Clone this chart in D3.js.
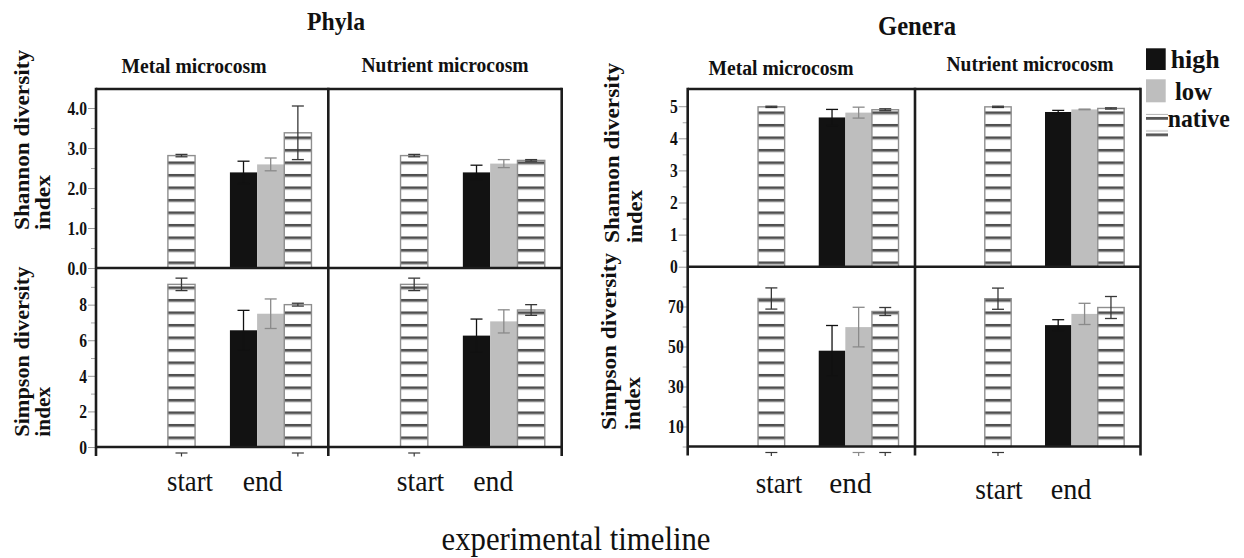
<!DOCTYPE html>
<html>
<head>
<meta charset="utf-8">
<script src="https://cdn.jsdelivr.net/npm/d3@7"></script>
<style>
  body { margin: 0; background: #fff; }
  svg { display: block; }
  text { font-family: "Liberation Serif", "Times New Roman", serif; fill: #111; }
</style>
</head>
<body>
<svg id="chart" width="1244" height="558"></svg>
<script>
// ---------- data ----------
const times = ["start", "end"];
const treatments = ["high", "low", "native"];
// bars shown in every panel, in this order: [time, treatment]
const barKeys = [["start", "native"], ["end", "high"], ["end", "low"], ["end", "native"]];
const taxLevels = ["Phyla", "Genera"];
const microcosms = ["Metal microcosm", "Nutrient microcosm"];
const indexNames = ["Shannon diversity", "Simpson diversity"];

// means and standard errors, in barKeys order
const phylaShannonMetal       = [2.81, 2.39, 2.59, 3.38];
const phylaShannonMetalErr    = [0.03, 0.28, 0.16, 0.67];
const phylaShannonNutrient    = [2.81, 2.39, 2.61, 2.69];
const phylaShannonNutrientErr = [0.03, 0.18, 0.10, 0.02];
const phylaSimpsonMetal       = [9.14, 6.56, 7.49, 8.00];
const phylaSimpsonMetalErr    = [0.35, 1.12, 0.83, 0.08];
const phylaSimpsonNutrient    = [9.14, 6.26, 7.06, 7.70];
const phylaSimpsonNutrientErr = [0.35, 0.93, 0.65, 0.30];

const generaShannonMetal       = [4.98, 4.65, 4.80, 4.89];
const generaShannonMetalErr    = [0.02, 0.25, 0.17, 0.03];
const generaShannonNutrient    = [4.98, 4.82, 4.90, 4.93];
const generaShannonNutrientErr = [0.02, 0.05, 0.01, 0.02];
const generaSimpsonMetal       = [74.0, 47.9, 59.7, 67.5];
const generaSimpsonMetalErr    = [5.3, 12.6, 9.9, 2.0];
const generaSimpsonNutrient    = [73.9, 60.7, 66.3, 69.5];
const generaSimpsonNutrientErr = [5.3, 2.7, 5.3, 5.5];

// tick values
const phylaShannonTicks  = [0, 1, 2, 3, 4];
const phylaShannonMinor  = [0.5, 1.5, 2.5, 3.5];
const phylaSimpsonTicks  = [0, 2, 4, 6, 8];
const phylaSimpsonMinor  = [1, 3, 5, 7, 9];
const generaShannonTicks = [0, 1, 2, 3, 4, 5];
const generaShannonMinor = [0.5, 1.5, 2.5, 3.5, 4.5];
const generaSimpsonTicks = [10, 30, 50, 70];
const generaSimpsonMinor = [0, 20, 40, 60, 80];

// lower error caps left below the time axis (bar indices, in barKeys order)
const phylaMetalCaps = [0, 3];
const phylaNutrientCaps = [0];
const generaMetalCaps = [0, 2, 3];
const generaNutrientCaps = [0];

// ---------- styles ----------
const fillOf = { high: "#121212", low: "#bebebe", native: "url(#stripes)" };
const errOf  = { high: "#111111", low: "#8a8a8a", native: "#383838" };
const frameColor = "#1c1c1c";
const serif = "'Liberation Serif', 'Times New Roman', serif";

const svg = d3.select("#chart");
svg.append("rect").attr("width", 1244).attr("height", 558).attr("fill", "#fff");

const defs = svg.append("defs");
const pat = defs.append("pattern").attr("id", "stripes")
  .attr("patternUnits", "userSpaceOnUse").attr("width", 8).attr("height", 12.5).attr("y", -1.05);
pat.append("rect").attr("width", 8).attr("height", 12.5).attr("fill", "#fff");
pat.append("rect").attr("y", 0).attr("width", 8).attr("height", 2.7).attr("fill", "#4f4f4f");
pat.append("rect").attr("y", 2.7).attr("width", 8).attr("height", 0.8).attr("fill", "#c4c4c4");

const pat2 = defs.append("pattern").attr("id", "legendStripes")
  .attr("patternUnits", "userSpaceOnUse").attr("width", 8).attr("height", 16.5).attr("y", 1.45);
pat2.append("rect").attr("width", 8).attr("height", 16.5).attr("fill", "#fff");
pat2.append("rect").attr("y", 0).attr("width", 8).attr("height", 2.8).attr("fill", "#555");
pat2.append("rect").attr("y", 13.5).attr("width", 8).attr("height", 1).attr("fill", "#b5b5b5");

function fit(sel, width) {
  return sel.attr("textLength", width).attr("lengthAdjust", "spacingAndGlyphs");
}
function condense(sel, k) {
  sel.each(function () {
    const n = this.getComputedTextLength();
    d3.select(this).attr("textLength", n * k).attr("lengthAdjust", "spacingAndGlyphs");
  });
}

// ---------- layout of the two 2x2 blocks ----------
const blocks = [
  {
    level: taxLevels[0],
    cols: [96, 328.3, 561.7],
    rows: [89, 268, 447],
    yMax: [4.475, 10.06],
    ticks: [phylaShannonTicks, phylaSimpsonTicks],
    minors: [phylaShannonMinor, phylaSimpsonMinor],
    fmt: [".1f", "d"],
    tickSize: [8, 8], tickPad: [1, 1],
    data: [
      [[phylaShannonMetal, phylaShannonMetalErr], [phylaShannonNutrient, phylaShannonNutrientErr]],
      [[phylaSimpsonMetal, phylaSimpsonMetalErr], [phylaSimpsonNutrient, phylaSimpsonNutrientErr]]
    ],
    caps: [phylaMetalCaps, phylaNutrientCaps],
    title: { x: 336, y: 30, size: 26, w: 58 },
    mcLabels: [{ x: 194, y: 73, w: 145 }, { x: 445, y: 72, w: 167 }],
    yLabels: [
      { x1: 29, x2: 50, y: 230, w1: 180, w2: 55 },
      { x1: 29, x2: 50, y: 436.7, w1: 170, w2: 50 }
    ],
    xLabels: [
      { s: 190, e: 262.7, y: 491, ws: 46, we: 40 },
      { s: 420.5, e: 493.3, y: 491, ws: 47.6, we: 40 }
    ]
  },
  {
    level: taxLevels[1],
    cols: [687.7, 915, 1140.5],
    rows: [89, 266.7, 446.5],
    yMax: [5.536, 89.9],
    ticks: [generaShannonTicks, generaSimpsonTicks],
    minors: [generaShannonMinor, generaSimpsonMinor],
    fmt: ["d", "d"],
    tickSize: [9, 8], tickPad: [1, -4],
    data: [
      [[generaShannonMetal, generaShannonMetalErr], [generaShannonNutrient, generaShannonNutrientErr]],
      [[generaSimpsonMetal, generaSimpsonMetalErr], [generaSimpsonNutrient, generaSimpsonNutrientErr]]
    ],
    caps: [generaMetalCaps, generaNutrientCaps],
    title: { x: 917, y: 34.5, size: 28, w: 78 },
    mcLabels: [{ x: 781, y: 75, w: 145 }, { x: 1030, y: 70.7, w: 167 }],
    yLabels: [
      { x1: 619, x2: 642, y: 243, w1: 180, w2: 53 },
      { x1: 616, x2: 640, y: 430, w1: 177, w2: 53 }
    ],
    xLabels: [
      { s: 779, e: 850.5, y: 493, ws: 46.6, we: 42.3 },
      { s: 999, e: 1071, y: 499, ws: 47.4, we: 40.7 }
    ]
  }
];

blocks.forEach(b => {
  const g = svg.append("g").attr("class", "block");

  // block title
  fit(g.append("text")
    .attr("x", b.title.x).attr("y", b.title.y)
    .attr("text-anchor", "middle").attr("font-weight", "bold")
    .attr("font-size", b.title.size)
    .text(b.level), b.title.w);

  // microcosm headings
  microcosms.forEach((mc, c) => {
    const L = b.mcLabels[c];
    fit(g.append("text")
      .attr("x", L.x).attr("y", L.y)
      .attr("text-anchor", "middle").attr("font-weight", "bold")
      .attr("font-size", 20)
      .text(mc), L.w);
  });

  indexNames.forEach((idxName, r) => {
    const y = d3.scaleLinear().domain([0, b.yMax[r]]).range([b.rows[r + 1], b.rows[r]]);

    // y-axis title (two lines, rotated)
    const L = b.yLabels[r];
    fit(g.append("text")
      .attr("transform", `translate(${L.x1},${L.y}) rotate(-90)`)
      .attr("font-weight", "bold").attr("font-size", 21)
      .text(idxName), L.w1);
    fit(g.append("text")
      .attr("transform", `translate(${L.x2},${L.y}) rotate(-90)`)
      .attr("font-weight", "bold").attr("font-size", 21)
      .text("index"), L.w2);

    // minor ticks
    const minor = g.append("g").attr("transform", `translate(${b.cols[0]},0)`)
      .call(d3.axisLeft(y).tickValues(b.minors[r]).tickSize(5).tickFormat(""));
    minor.select(".domain").remove();
    minor.selectAll(".tick line").attr("stroke", "#a8a8a8").attr("stroke-width", 1);

    // major ticks and labels
    const ax = g.append("g").attr("transform", `translate(${b.cols[0]},0)`)
      .attr("font-family", serif)
      .call(d3.axisLeft(y).tickValues(b.ticks[r]).tickSize(b.tickSize[r])
        .tickPadding(b.tickPad[r]).tickFormat(d3.format(b.fmt[r])));
    ax.attr("font-family", serif);
    ax.select(".domain").remove();
    ax.selectAll(".tick line").attr("stroke", "#9a9a9a").attr("stroke-width", 1);
    ax.selectAll(".tick text")
      .style("font-family", serif)
      .attr("font-weight", "bold").attr("font-size", 19.5).attr("fill", "#111");
    condense(ax.selectAll(".tick text"), 0.8);

    microcosms.forEach((mc, c) => {
      const xa = b.cols[c], xb = b.cols[c + 1], w = xb - xa;
      const xOuter = d3.scaleBand().domain(times).range([xa + 0.176 * w, xa + 0.944 * w]);
      const bw = 0.117 * w;
      const xInner = d3.scaleBand().domain(treatments).range([-1.5 * bw, 1.5 * bw]);
      const [vals, errs] = b.data[r][c];
      const bars = barKeys.map((k, i) => ({ time: k[0], trt: k[1], v: vals[i], e: errs[i] }));
      const left = d => {
        const cx = xOuter(d.time) + xOuter.bandwidth() / 2;
        return d.time === "start" ? cx - bw / 2 : cx + xInner(d.trt);
      };
      const mid = d => left(d) + bw / 2;

      const pg = g.append("g");
      pg.selectAll("rect.bar").data(bars).join("rect")
        .attr("class", "bar")
        .attr("x", left).attr("width", bw)
        .attr("y", d => y(d.v)).attr("height", d => y(0) - y(d.v))
        .attr("fill", d => fillOf[d.trt])
        .attr("stroke", d => d.trt === "native" ? "#8e8e8e" : "none")
        .attr("stroke-width", 1.4);

      // error bars
      const eg = pg.selectAll("g.err").data(bars).join("g").attr("class", "err")
        .attr("stroke", d => errOf[d.trt]).attr("stroke-width", 1.3);
      eg.append("line")
        .attr("x1", mid).attr("x2", mid)
        .attr("y1", d => y(d.v + d.e)).attr("y2", d => y(Math.max(0, d.v - d.e)));
      eg.append("line")
        .attr("x1", d => mid(d) - 6).attr("x2", d => mid(d) + 6)
        .attr("y1", d => y(d.v + d.e)).attr("y2", d => y(d.v + d.e));
      eg.append("line")
        .attr("x1", d => mid(d) - 6).attr("x2", d => mid(d) + 6)
        .attr("y1", d => y(d.v - d.e)).attr("y2", d => y(d.v - d.e));

      if (r === 1) {
        // lower caps below the time axis
        const capBars = b.caps[c].map(i => bars[i]);
        const cg = pg.selectAll("g.cap").data(capBars).join("g").attr("class", "cap")
          .attr("stroke", d => errOf[d.trt]).attr("stroke-width", 1.2);
        const yb = b.rows[2];
        cg.append("line").attr("x1", d => mid(d) - 6).attr("x2", d => mid(d) + 6)
          .attr("y1", yb + 6).attr("y2", yb + 6);
        cg.append("line").attr("x1", mid).attr("x2", mid)
          .attr("y1", yb + 6).attr("y2", yb + 9.5);

        // time labels
        const X = b.xLabels[c];
        fit(g.append("text").attr("x", X.s).attr("y", X.y)
          .attr("text-anchor", "middle").attr("font-size", 30).text(times[0]), X.ws);
        fit(g.append("text").attr("x", X.e).attr("y", X.y)
          .attr("text-anchor", "middle").attr("font-size", 30).text(times[1]), X.we);
      }
    });
  });

  // panel frame
  const fg = g.append("g").attr("stroke", frameColor).attr("stroke-width", 2.6).attr("fill", "none");
  b.rows.forEach(ry => {
    fg.append("line").attr("x1", b.cols[0]).attr("x2", b.cols[2]).attr("y1", ry).attr("y2", ry);
  });
  b.cols.forEach(cx => {
    fg.append("line").attr("x1", cx).attr("x2", cx).attr("y1", b.rows[0] - 1.3).attr("y2", b.rows[2] + 9);
  });
});

// shared x-axis title
fit(svg.append("text").attr("x", 576).attr("y", 550)
  .attr("text-anchor", "middle").attr("font-size", 34)
  .text("experimental timeline"), 269);

// legend
const legendItems = [
  { key: "high", box: [1146, 48.3, 19.7, 21.7], fill: fillOf.high, tx: 1170.7, ty: 67.7, tw: 49 },
  { key: "low", box: [1146, 79.3, 19.7, 23], fill: fillOf.low, tx: 1175, ty: 100, tw: 37 },
  { key: "native", box: [1146, 112.7, 22, 25.6], fill: "url(#legendStripes)", tx: 1167.7, ty: 127.3, tw: 62 }
];
const lg = svg.append("g").attr("class", "legend");
lg.selectAll("rect").data(legendItems).join("rect")
  .attr("x", d => d.box[0]).attr("y", d => d.box[1])
  .attr("width", d => d.box[2]).attr("height", d => d.box[3])
  .attr("fill", d => d.fill);
lg.selectAll("text").data(legendItems).join("text")
  .attr("x", d => d.tx).attr("y", d => d.ty)
  .attr("font-weight", "bold").attr("font-size", 26)
  .style("font-family", serif)
  .text(d => d.key)
  .each(function (d) { fit(d3.select(this), d.tw); });
</script>
</body>
</html>
